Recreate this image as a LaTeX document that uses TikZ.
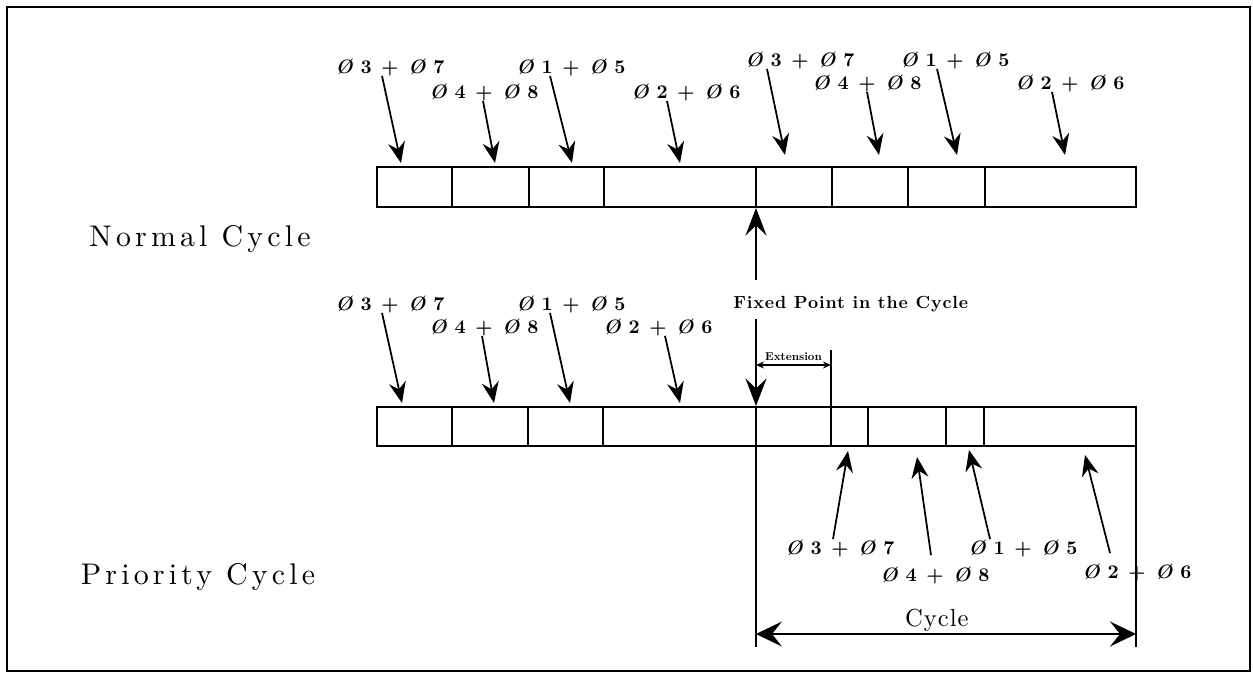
\documentclass[tikz,border=0pt]{standalone}
\usepackage{fontspec}
\setmainfont{lmroman10}[Extension=.otf, UprightFont=*-regular, BoldFont=*-bold,
  ItalicFont=*-italic, BoldItalicFont=*-bolditalic]
\usepackage{tikz}
\usetikzlibrary{arrows.meta,calc}

% phase pair label, e.g. Ø 3 + Ø 7
\newcommand{\phs}[2]{\textit{Ø}\hspace{0.4em}#1\hspace{0.5em}+\hspace{0.5em}\textit{Ø}\hspace{0.4em}#2}

\tikzset{
  bar/.style={line width=0.9pt},
  phlabel/.style={font=\fontsize{11}{13}\selectfont\bfseries, inner sep=0pt},
  cyclabel/.style={font=\fontsize{17}{20}\selectfont\addfontfeature{LetterSpace=14}, inner sep=0pt},
  fixlabel/.style={font=\fontsize{10}{12}\selectfont\bfseries\addfontfeature{LetterSpace=5}, inner sep=0pt},
  phArrow/.style={line width=1pt, -{Stealth[length=0.42cm,width=0.34cm,inset=0.14cm]}},
  fixArrow/.style={line width=0.8pt, -{Stealth[length=0.55cm,width=0.42cm,inset=0.2cm]}},
  extArrow/.style={line width=0.6pt, {Stealth[length=0.16cm,width=0.14cm]}-{Stealth[length=0.16cm,width=0.14cm]}},
  cycArrow/.style={line width=0.9pt, {Stealth[length=0.52cm,width=0.5cm,inset=0.2cm]}-{Stealth[length=0.52cm,width=0.5cm,inset=0.2cm]}}
}

\begin{document}
\begin{tikzpicture}[x=0.02cm, y=-0.02cm]
    \useasboundingbox (0,0) rectangle (1253,675);
    \draw[line width=1.6pt] (7,7) rectangle (1250,671);

    % Normal cycle
    \node[cyclabel] (normal) at (200,239) {Normal Cycle};
    \draw[bar] (377,167) rectangle (1136,207);
    \foreach \x in {452,529,604,756,832,908,985} \draw[bar] (\x,167) -- (\x,207);

    \node[phlabel] (t1) at (390,67) {\phs{3}{7}};
    \node[phlabel] (t2) at (484,92) {\phs{4}{8}};
    \node[phlabel] (t3) at (571,67) {\phs{1}{5}};
    \node[phlabel] (t4) at (686,92) {\phs{2}{6}};
    \node[phlabel] (t5) at (800,60) {\phs{3}{7}};
    \node[phlabel] (t6) at (867,83) {\phs{4}{8}};
    \node[phlabel] (t7) at (955,60) {\phs{1}{5}};
    \node[phlabel] (t8) at (1070,83) {\phs{2}{6}};
    \coordinate (t1tip) at (401,163);
    \coordinate (t2tip) at (495,163);
    \coordinate (t3tip) at (572,163);
    \coordinate (t4tip) at (680,163);
    \coordinate (t5tip) at (785,155);
    \coordinate (t6tip) at (879,155);
    \coordinate (t7tip) at (957,155);
    \coordinate (t8tip) at (1065,155);
    \draw[phArrow] ($(t1.south)+(-8,0)$) -- (t1tip);
    \draw[phArrow] ($(t2.south)+(-1,0)$) -- (t2tip);
    \draw[phArrow] ($(t3.south)+(-21,0)$) -- (t3tip);
    \draw[phArrow] ($(t4.south)+(-19,0)$) -- (t4tip);
    \draw[phArrow] ($(t5.south)+(-33,0)$) -- (t5tip);
    \draw[phArrow] ($(t6.south)+(0,0)$) -- (t6tip);
    \draw[phArrow] ($(t7.south)+(-18,0)$) -- (t7tip);
    \draw[phArrow] ($(t8.south)+(-18,0)$) -- (t8tip);

    % fixed point
    \node[fixlabel, anchor=west] (fixed) at (733,304) {Fixed Point in the Cycle};
    \coordinate (fixTop) at (756,208);
    \coordinate (fixBot) at (756,406);
    \coordinate (cycL) at (756,647);
    \draw[fixArrow] ($(fixed.north west)+(23,-16)$) -- (fixTop);
    \draw[fixArrow] ($(fixed.south west)+(23,7)$) -- (fixBot);
    \draw[bar] (fixBot) -- (cycL);

    % Priority cycle
    \node[cyclabel] (priority) at (198,577) {Priority Cycle};
    \draw[bar] (377,407) rectangle (1136,446);
    \foreach \x in {452,528,603,831,868,946,984} \draw[bar] (\x,407) -- (\x,446);

    \node[phlabel] (p1) at (390,304) {\phs{3}{7}};
    \node[phlabel] (p2) at (484,327) {\phs{4}{8}};
    \node[phlabel] (p3) at (571,304) {\phs{1}{5}};
    \node[phlabel] (p4) at (658,327) {\phs{2}{6}};
    \coordinate (p1tip) at (402,403);
    \coordinate (p2tip) at (494,403);
    \coordinate (p3tip) at (570,403);
    \coordinate (p4tip) at (680,403);
    \draw[phArrow] ($(p1.south)+(-8,0)$) -- (p1tip);
    \draw[phArrow] ($(p2.south)+(-2,0)$) -- (p2tip);
    \draw[phArrow] ($(p3.south)+(-21,0)$) -- (p3tip);
    \draw[phArrow] ($(p4.south)+(7,0)$) -- (p4tip);

    % extension
    \coordinate (extTop) at (831,350);
    \coordinate (extL) at (756,365);
    \coordinate (extR) at (831,365);
    \draw[line width=0.6pt] (extTop) -- (831,407);
    \draw[extArrow] (extL) -- (extR)
        node[midway, above=2pt, inner sep=0pt, font=\fontsize{6.5}{8}\selectfont\bfseries] (ext) {Extension};

    \node[phlabel] (b1) at (840,548) {\phs{3}{7}};
    \node[phlabel] (b2) at (935,575) {\phs{4}{8}};
    \node[phlabel] (b3) at (1023,548) {\phs{1}{5}};
    \node[phlabel] (b4) at (1137,572) {\phs{2}{6}};
    \coordinate (b1tip) at (848,451);
    \coordinate (b2tip) at (917,457);
    \coordinate (b3tip) at (969,450);
    \coordinate (b4tip) at (1085,455);
    \draw[phArrow] ($(b1.north)+(-7,0)$) -- (b1tip);
    \draw[phArrow] ($(b2.north)+(-4,-11)$) -- (b2tip);
    \draw[phArrow] ($(b3.north)+(-33,0)$) -- (b3tip);
    \draw[phArrow] ($(b4.north)+(-27,-10)$) -- (b4tip);

    % cycle length
    \coordinate (cycR) at (1136,647);
    \draw[bar] (1136,446) -- (cycR);
    \draw[cycArrow] (cycL |- 0,634) -- (cycR |- 0,634)
        node[pos=0.476, above=1pt, inner sep=0pt, font=\fontsize{14}{16}\selectfont\addfontfeature{LetterSpace=4}] (cyc) {Cycle};
\end{tikzpicture}
\end{document}
